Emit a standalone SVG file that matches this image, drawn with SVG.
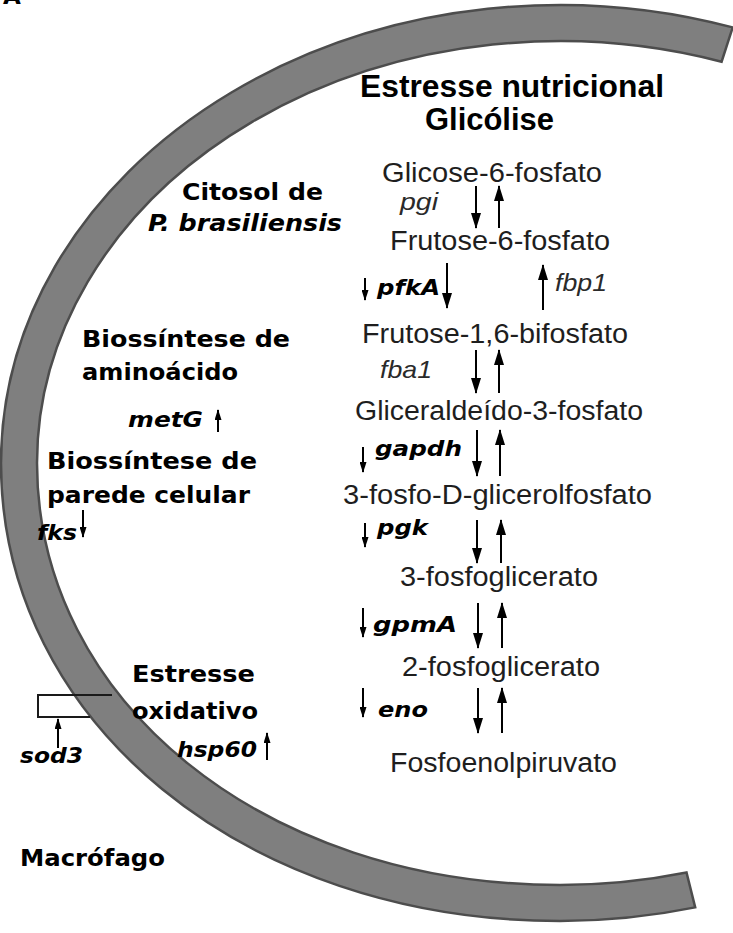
<svg xmlns="http://www.w3.org/2000/svg" width="733" height="933" viewBox="0 0 733 933">
<style>
.title{font-family:"Liberation Sans",Arial,sans-serif;font-weight:bold;font-size:31px;fill:#000}
.met{font-family:"Liberation Sans",Arial,sans-serif;font-size:27px;fill:#1e1e1e}
.gi{font-family:"Liberation Sans",Arial,sans-serif;font-style:italic;font-size:24px;fill:#2a2a2a}
.gene{font-family:"DejaVu Sans",Verdana,sans-serif;font-weight:bold;font-style:italic;font-size:22px;fill:#000}
.lab{font-family:"DejaVu Sans",Verdana,sans-serif;font-weight:bold;font-size:23px;fill:#000}
.labi{font-family:"DejaVu Sans",Verdana,sans-serif;font-weight:bold;font-style:italic;font-size:23px;fill:#000}
.ar{stroke:#000;stroke-width:2;fill:none}
.br{stroke:#1a1a1a;stroke-width:2;fill:none}
</style>
<defs>
<marker id="ah" viewBox="0 0 16 10" refX="15" refY="5" markerWidth="16" markerHeight="10" markerUnits="userSpaceOnUse" orient="auto"><path d="M0,0 L16,5 L0,10 z" fill="#000"/></marker>
<marker id="as" viewBox="0 0 11 7" refX="10" refY="3.5" markerWidth="11" markerHeight="7" markerUnits="userSpaceOnUse" orient="auto"><path d="M0,0 L11,3.5 L0,7 z" fill="#000"/></marker>
</defs>
<rect width="733" height="933" fill="#fff"/>
<text x="3" y="4" class="lab" font-size="20">A</text>
<g id="membrane">
<path d="M732.7,27.4 A559,458 0 0 0 1,463 C1,721.8 244.2,921 560,921 A559,458 0 0 0 695.2,907.4 L686.5,872.5 A523,422 0 0 1 560,885 C264.5,885 37,701.4 37,463 A523,422 0 0 1 721.6,61.7 Z" fill="#7f7f7f" stroke="#4d4d4d" stroke-width="2.5" stroke-linejoin="miter"/>
</g>
<g id="titulo">
<text class="title" x="360" y="97" textLength="304" lengthAdjust="spacingAndGlyphs">Estresse nutricional</text>
<text class="title" x="425" y="130" textLength="129" lengthAdjust="spacingAndGlyphs">Glicólise</text>
</g>
<g id="glicose6p"><text class="met" x="382" y="182" textLength="220" lengthAdjust="spacingAndGlyphs">Glicose-6-fosfato</text></g>
<g id="frutose6p"><text class="met" x="390" y="250" textLength="220" lengthAdjust="spacingAndGlyphs">Frutose-6-fosfato</text></g>
<g id="frutose16bp"><text class="met" x="362" y="343" textLength="266" lengthAdjust="spacingAndGlyphs">Frutose-1,6-bifosfato</text></g>
<g id="gliceraldeido3p"><text class="met" x="355" y="420" textLength="288" lengthAdjust="spacingAndGlyphs">Gliceraldeído-3-fosfato</text></g>
<g id="fosfoglicerolfosfato"><text class="met" x="343" y="504" textLength="309" lengthAdjust="spacingAndGlyphs">3-fosfo-D-glicerolfosfato</text></g>
<g id="fosfoglicerato3"><text class="met" x="400" y="586" textLength="198" lengthAdjust="spacingAndGlyphs">3-fosfoglicerato</text></g>
<g id="fosfoglicerato2"><text class="met" x="402" y="676" textLength="198" lengthAdjust="spacingAndGlyphs">2-fosfoglicerato</text></g>
<g id="fosfoenolpiruvato"><text class="met" x="390" y="772" textLength="227" lengthAdjust="spacingAndGlyphs">Fosfoenolpiruvato</text></g>
<g id="genes-glicolise">
<text class="gi" x="400" y="210" textLength="38" lengthAdjust="spacingAndGlyphs">pgi</text>
<text class="gene" x="377" y="295" textLength="63" lengthAdjust="spacingAndGlyphs">pfkA</text>
<text class="gi" x="555" y="291" textLength="52" lengthAdjust="spacingAndGlyphs">fbp1</text>
<text class="gi" x="380" y="378" textLength="52" lengthAdjust="spacingAndGlyphs">fba1</text>
<text class="gene" x="375" y="456" textLength="87" lengthAdjust="spacingAndGlyphs">gapdh</text>
<text class="gene" x="377" y="535" textLength="51" lengthAdjust="spacingAndGlyphs">pgk</text>
<text class="gene" x="373" y="632" textLength="84" lengthAdjust="spacingAndGlyphs">gpmA</text>
<text class="gene" x="378" y="717" textLength="50" lengthAdjust="spacingAndGlyphs">eno</text>
</g>
<g id="citosol">
<text class="lab" x="182" y="200" textLength="141" lengthAdjust="spacingAndGlyphs">Citosol de</text>
<text class="labi" x="148" y="231" textLength="194" lengthAdjust="spacingAndGlyphs">P. brasiliensis</text>
</g>
<g id="aminoacido">
<text class="lab" x="82" y="347" textLength="208" lengthAdjust="spacingAndGlyphs">Biossíntese de</text>
<text class="lab" x="82" y="380" textLength="156" lengthAdjust="spacingAndGlyphs">aminoácido</text>
<text class="gene" x="128" y="427" textLength="75" lengthAdjust="spacingAndGlyphs">metG</text>
</g>
<g id="parede">
<text class="lab" x="47" y="469" textLength="210" lengthAdjust="spacingAndGlyphs">Biossíntese de</text>
<text class="lab" x="47" y="503" textLength="203" lengthAdjust="spacingAndGlyphs">parede celular</text>
<text class="gene" x="37" y="540" textLength="40" lengthAdjust="spacingAndGlyphs">fks</text>
</g>
<g id="oxidativo">
<text class="lab" x="132" y="682" textLength="123" lengthAdjust="spacingAndGlyphs">Estresse</text>
<text class="lab" x="132" y="719" textLength="126" lengthAdjust="spacingAndGlyphs">oxidativo</text>
<text class="gene" x="177" y="757" textLength="80" lengthAdjust="spacingAndGlyphs">hsp60</text>
<text class="gene" x="20" y="763" textLength="63" lengthAdjust="spacingAndGlyphs">sod3</text>
<path class="br" d="M112,695 H38 V717 H90"/>
</g>
<g id="macrofago"><text class="lab" x="20" y="866" textLength="145" lengthAdjust="spacingAndGlyphs">Macrófago</text></g>
<g id="connectors">
<line class="ar" x1="476" y1="186" x2="476" y2="228" marker-end="url(#ah)"/>
<line class="ar" x1="499" y1="228" x2="499" y2="186" marker-end="url(#ah)"/>
<line class="ar" x1="447" y1="263" x2="447" y2="308" marker-end="url(#ah)"/>
<line class="ar" x1="543" y1="310" x2="543" y2="265" marker-end="url(#ah)"/>
<line class="ar" x1="476" y1="350" x2="476" y2="393" marker-end="url(#ah)"/>
<line class="ar" x1="499" y1="393" x2="499" y2="350" marker-end="url(#ah)"/>
<line class="ar" x1="477" y1="430" x2="477" y2="476" marker-end="url(#ah)"/>
<line class="ar" x1="500" y1="476" x2="500" y2="430" marker-end="url(#ah)"/>
<line class="ar" x1="477" y1="520" x2="477" y2="563" marker-end="url(#ah)"/>
<line class="ar" x1="501" y1="563" x2="501" y2="520" marker-end="url(#ah)"/>
<line class="ar" x1="478" y1="603" x2="478" y2="648" marker-end="url(#ah)"/>
<line class="ar" x1="502" y1="648" x2="502" y2="603" marker-end="url(#ah)"/>
<line class="ar" x1="478" y1="688" x2="478" y2="733" marker-end="url(#ah)"/>
<line class="ar" x1="502" y1="733" x2="502" y2="688" marker-end="url(#ah)"/>
<line class="ar" stroke-width="1.6" x1="365" y1="278" x2="365" y2="300" marker-end="url(#as)"/>
<line class="ar" stroke-width="1.6" x1="363" y1="447" x2="363" y2="472" marker-end="url(#as)"/>
<line class="ar" stroke-width="1.6" x1="365" y1="523" x2="365" y2="547" marker-end="url(#as)"/>
<line class="ar" stroke-width="1.6" x1="363" y1="608" x2="363" y2="637" marker-end="url(#as)"/>
<line class="ar" stroke-width="1.6" x1="363" y1="688" x2="363" y2="717" marker-end="url(#as)"/>
<line class="ar" stroke-width="1.6" x1="218" y1="432" x2="218" y2="410" marker-end="url(#as)"/>
<line class="ar" stroke-width="1.6" x1="83" y1="510" x2="83" y2="537" marker-end="url(#as)"/>
<line class="ar" stroke-width="1.6" x1="267" y1="760" x2="267" y2="733" marker-end="url(#as)"/>
<line class="ar" stroke-width="1.6" x1="58" y1="748" x2="58" y2="719" marker-end="url(#as)"/>
</g>
</svg>
